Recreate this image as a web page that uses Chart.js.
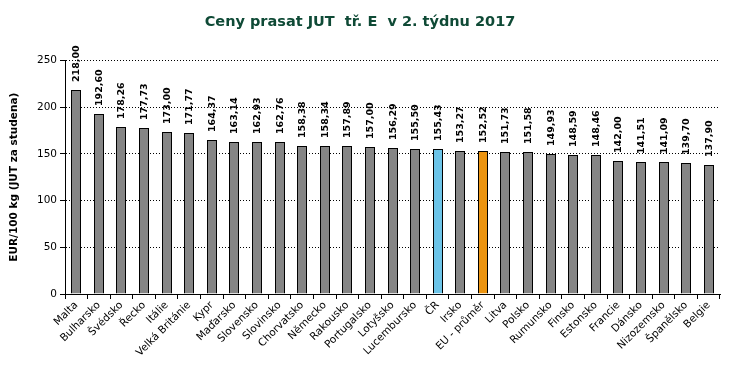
<!DOCTYPE html>
<html>
<head>
<meta charset="utf-8">
<script src="https://cdn.jsdelivr.net/npm/chart.js@4.4.1/dist/chart.umd.min.js"></script>
<style>
  html, body { margin: 0; padding: 0; background: #fff; }
  #wrap { width: 734px; height: 386px; }
</style>
</head>
<body>
<div id="wrap"><canvas id="graf" width="734" height="386"></canvas></div>
<script>
const zeme = ['Malta', 'Bulharsko', 'Švédsko', 'Řecko', 'Itálie', 'Velká Británie', 'Kypr', 'Maďarsko',
    'Slovensko', 'Slovinsko', 'Chorvatsko', 'Německo', 'Rakousko', 'Portugalsko', 'Lotyšsko', 'Lucembursko',
    'ČR', 'Irsko', 'EU - průměr', 'Litva', 'Polsko', 'Rumunsko', 'Finsko', 'Estonsko', 'Francie', 'Dánsko',
    'Nizozemsko', 'Španělsko', 'Belgie'];
const ceny = [218.00, 192.60, 178.26, 177.73, 173.00, 171.77, 164.37, 163.14, 162.93, 162.76, 158.38, 158.34,
    157.89, 157.00, 156.29, 155.50, 155.43, 153.27, 152.52, 151.73, 151.58, 149.93, 148.59, 148.46, 142.00,
    141.51, 141.09, 139.70, 137.90];
const yTicks = [0, 50, 100, 150, 200, 250];

const barvy = zeme.map(z => z == 'ČR' ? '#6cc4e8' : (z == 'EU - průměr' ? '#ec9410' : '#858585'));

function cislo(v) {
    return v.toFixed(2).replace('.', ',');
}

// sloupce na cele pixely, aby byl okraj ostry
const ostrePlugin = {
    id: 'ostre',
    beforeDatasetsDraw(chart) {
        chart.getDatasetMeta(0).data.forEach(bar => {
            bar.x = Math.round(bar.x);
            bar.width = 10;
            bar.y = Math.round(bar.y);
        });
    }
};

// popisky hodnot nad sloupci (svisle)
const hodnotyPlugin = {
    id: 'hodnoty',
    afterDatasetsDraw(chart) {
        const ctx = chart.ctx;
        const meta = chart.getDatasetMeta(0);
        ctx.save();
        ctx.font = 'bold 9.5px "DejaVu Sans", Verdana, sans-serif';
        ctx.fillStyle = '#000';
        ctx.textAlign = 'left';
        ctx.textBaseline = 'middle';
        meta.data.forEach((bar, i) => {
            ctx.save();
            ctx.translate(bar.x + 0.5, bar.y - 8);
            ctx.rotate(-Math.PI / 2);
            ctx.fillText(cislo(ceny[i]), 0, 0);
            ctx.restore();
        });
        ctx.restore();
    }
};

const chart = new Chart(document.getElementById('graf').getContext('2d'), {
    type: 'bar',
    data: {
        labels: zeme,
        datasets: [{
            data: ceny,
            backgroundColor: barvy,
            borderColor: '#000',
            borderWidth: 1,
            barPercentage: 0.45,
            categoryPercentage: 1.0
        }]
    },
    options: {
        responsive: false,
        animation: false,
        layout: { padding: { left: 0, right: 14, top: 0, bottom: 0 } },
        plugins: {
            legend: { display: false },
            tooltip: { enabled: false },
            title: {
                display: true,
                text: 'Ceny prasat JUT  tř. E  v 2. týdnu 2017',
                color: '#0f4a36',
                font: { family: '"DejaVu Sans", sans-serif', size: 14.5, weight: 'bold' },
                padding: { top: 14, bottom: 29 }
            }
        },
        scales: {
            x: {
                offset: true,
                grid: {
                    offset: true,
                    drawOnChartArea: false,
                    color: '#000',
                    tickLength: 5
                },
                border: { color: '#000', width: 1 },
                ticks: {
                    color: '#000',
                    minRotation: 45,
                    maxRotation: 45,
                    autoSkip: false,
                    padding: 0,
                    font: { family: '"DejaVu Sans", Verdana, sans-serif', size: 10.5 }
                },
                afterFit: scale => { scale.height = 92; }
            },
            y: {
                min: 0,
                max: 250,
                afterBuildTicks: scale => { scale.ticks = yTicks.map(v => ({ value: v })); },
                grid: {
                    color: '#000',
                    lineWidth: 1,
                    tickBorderDash: [],
                    tickLength: 5,
                    drawTicks: true
                },
                border: { color: '#000', width: 1, dash: [1, 2] },
                ticks: {
                    color: '#000',
                    padding: 3,
                    font: { family: '"DejaVu Sans", Verdana, sans-serif', size: 10.5 }
                },
                title: {
                    display: true,
                    text: 'EUR/100 kg (JUT za studena)',
                    color: '#000',
                    font: { family: '"DejaVu Sans", Verdana, sans-serif', size: 10.5, weight: 'bold' },
                    padding: { top: 8, bottom: 4 }
                },
                afterFit: scale => { scale.width = 65; }
            }
        }
    },
    plugins: [ostrePlugin, hodnotyPlugin]
});
</script>
</body>
</html>
